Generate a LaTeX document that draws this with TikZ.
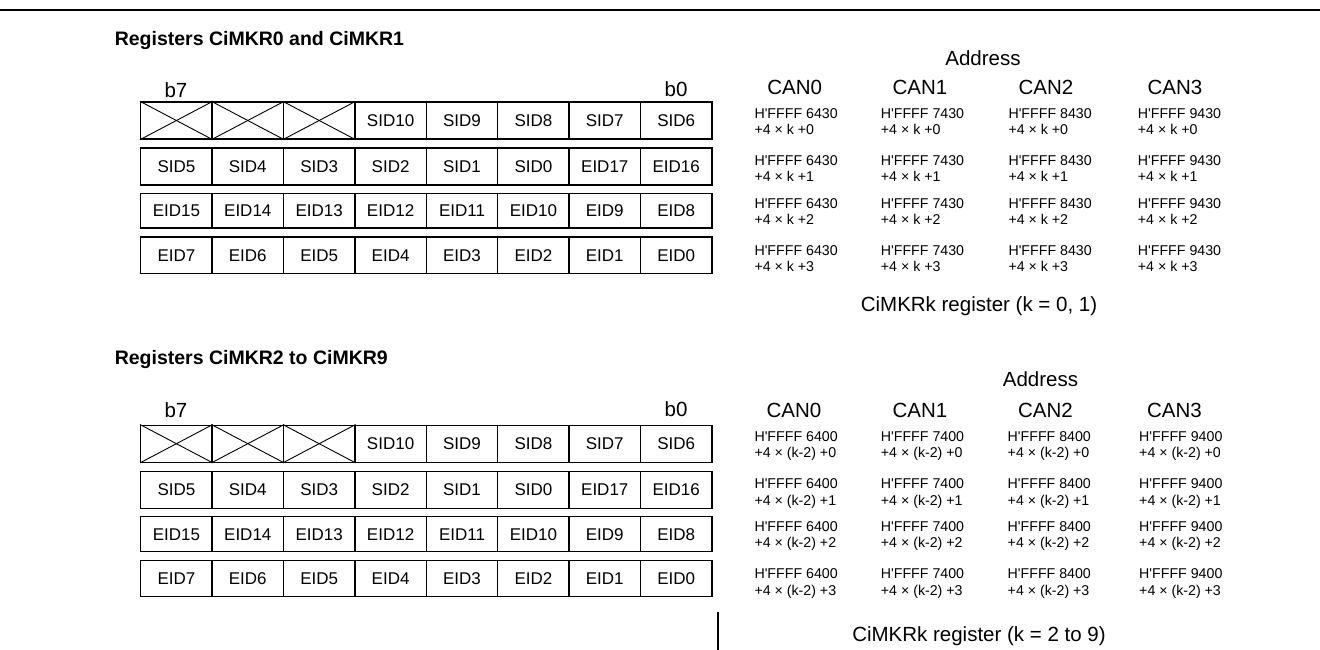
\documentclass[tikz,border=0pt]{standalone}
\usepackage{fontspec}
\setmainfont{Liberation Sans}
\newcommand\regrow[5]{% #1 name, #2 ycenter, #3 height, #4 labels, #5 unused
  \foreach \t [count=\i from 0] in {#4} {
    \node[cell, minimum height=#3pt] (#1\i) at ({176.4+71.4*\i}, #2) {\t};
  }
}
\begin{document}
\begin{tikzpicture}[x=1pt,y=-1pt,
  cell/.style={draw, line width=1.3pt, inner sep=0pt, minimum width=71.4pt, text height=12.2pt, text depth=0pt, font=\fontsize{17}{17}\selectfont},
  addr/.style={anchor=base west, inner sep=0pt, font=\fontsize{14.2}{14.2}\selectfont},
  hdr/.style={inner sep=0pt, text height=14.7pt, text depth=0pt, font=\fontsize{20.5}{20.5}\selectfont},
  ttl/.style={anchor=west, inner sep=0pt, text height=14pt, text depth=0pt, font=\bfseries\fontsize{19.5}{19.5}\selectfont},
  xline/.style={line width=0.9pt},
  frame/.style={line width=2.4pt}]
\useasboundingbox (0,0) rectangle (1320,650);

% frame
\coordinate (fl) at (0,10);
\coordinate (fr) at (1320,10);
\draw[frame] (fl) -- (fr);
\coordinate (vt) at (718,612);
\coordinate (vb) at (718,650);
\draw[line width=1.3pt] (vt) -- (vb);

% ---------- top section ----------
\node[ttl] (title1) at (114.6,38.3) {Registers CiMKR0 and CiMKR1};
\node[hdr] (b7a) at (176,90) {b7};
\node[hdr] (b0a) at (676,89) {b0};

\regrow{ra}{120.5}{37}{,,,SID10,SID9,SID8,SID7,SID6}{}
\regrow{rb}{166.5}{37}{SID5,SID4,SID3,SID2,SID1,SID0,EID17,EID16}{}
\regrow{rc}{210.8}{34.5}{EID15,EID14,EID13,EID12,EID11,EID10,EID9,EID8}{}
\regrow{rd}{255.2}{36.5}{EID7,EID6,EID5,EID4,EID3,EID2,EID1,EID0}{}
\foreach \i in {0,1,2} {
  \draw[xline] (ra\i.north west) -- (ra\i.south east);
  \draw[xline] (ra\i.south west) -- (ra\i.north east);
}

\node[hdr] (addrA) at (983,58.3) {Address};
\node[hdr] (canA0) at (794.7,87.5) {CAN0};
\node[hdr] (canA1) at (920,87.5) {CAN1};
\node[hdr] (canA2) at (1046,87.5) {CAN2};
\node[hdr] (canA3) at (1175,87.5) {CAN3};

\foreach \c/\x/\base in {0/754.3/6430, 1/880.7/7430, 2/1008.3/8430, 3/1137.7/9430}
  \foreach \r/\ya/\yb in {0/118.5/134.5, 1/165/181.6, 2/208.5/224.2, 3/255.5/271.8} {
    \node[addr] (ta\c\r) at (\x,\ya) {H\textquotesingle FFFF \base};
    \node[addr] (tb\c\r) at (\x,\yb) {+4 × k +\r};
  }
\node[hdr] (capA) at (979,304) {CiMKRk register (k = 0, 1)};

% ---------- bottom section ----------
\node[ttl] (title2) at (114.6,357.8) {Registers CiMKR2 to CiMKR9};
\node[hdr] (b7b) at (176,410) {b7};
\node[hdr] (b0b) at (676,409.5) {b0};

\regrow{sa}{443.7}{37}{,,,SID10,SID9,SID8,SID7,SID6}{}
\regrow{sb}{489.7}{37}{SID5,SID4,SID3,SID2,SID1,SID0,EID17,EID16}{}
\regrow{sc}{534}{34.5}{EID15,EID14,EID13,EID12,EID11,EID10,EID9,EID8}{}
\regrow{sd}{578.4}{36.5}{EID7,EID6,EID5,EID4,EID3,EID2,EID1,EID0}{}
\foreach \i in {0,1,2} {
  \draw[xline] (sa\i.north west) -- (sa\i.south east);
  \draw[xline] (sa\i.south west) -- (sa\i.north east);
}

\node[hdr] (addrB) at (1040.5,379.5) {Address};
\node[hdr] (canB0) at (794,410) {CAN0};
\node[hdr] (canB1) at (920,410) {CAN1};
\node[hdr] (canB2) at (1045.5,410) {CAN2};
\node[hdr] (canB3) at (1174.5,410) {CAN3};

\foreach \c/\x/\base in {0/754.3/6400, 1/880.7/7400, 2/1007.5/8400, 3/1139/9400}
  \foreach \r/\ya/\yb in {0/441.7/457, 1/488.3/505, 2/531.7/547.7, 3/578.3/595} {
    \node[addr] (ua\c\r) at (\x,\ya) {H\textquotesingle FFFF \base};
    \node[addr] (ub\c\r) at (\x,\yb) {+4 × (k-2) +\r};
  }
\node[hdr] (capB) at (979,634.5) {CiMKRk register (k = 2 to 9)};
\end{tikzpicture}
\end{document}
